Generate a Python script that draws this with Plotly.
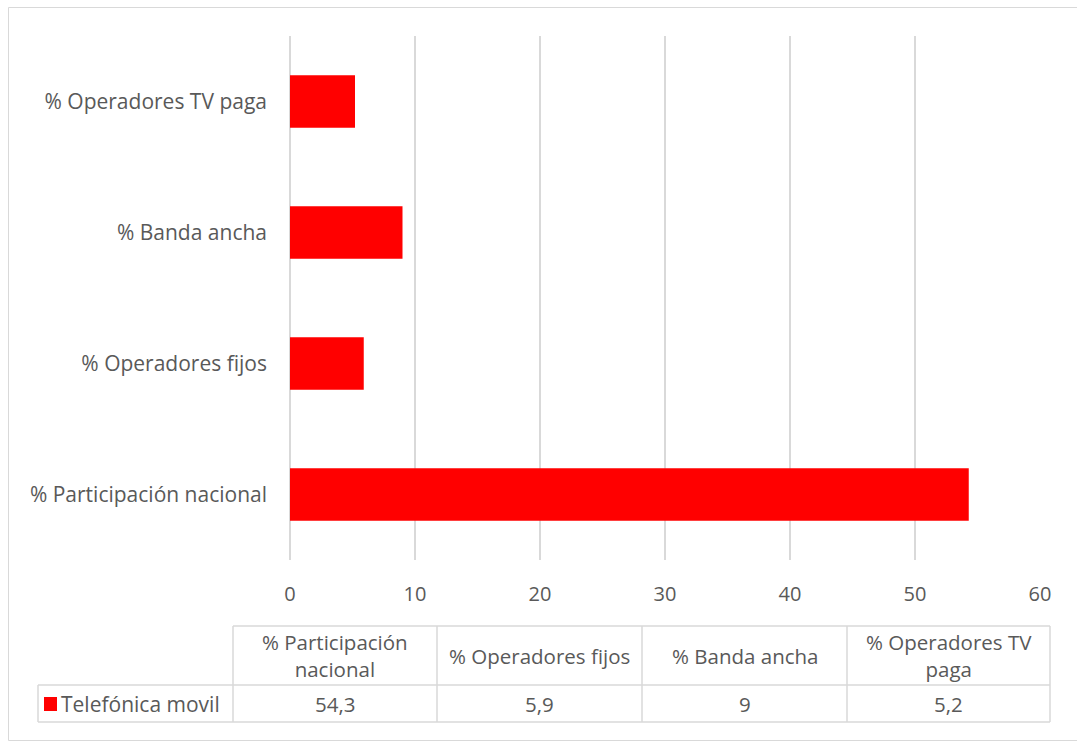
import plotly.graph_objects as go

# Telefónica movil market shares (%)
categories = ["% Participación nacional", "% Operadores fijos", "% Banda ancha", "% Operadores TV paga"]
header_labels = ["% Participación<br>nacional", "% Operadores fijos", "% Banda ancha", "% Operadores TV<br>paga"]
series_name = "Telefónica movil"
values = [54.3, 5.9, 9, 5.2]
value_labels = ["54,3", "5,9", "9", "5,2"]
x_ticks = [0, 10, 20, 30, 40, 50, 60]

W, H = 1077, 749
L, R, T, B = 290, 1040, 36, 560  # plot area in pixels
FONT = "Open Sans, sans-serif"
GREY = "#595959"
LINE = "#d9d9d9"
FS = 21


def px(x):
    return (x - L) / (R - L)


def py(y):
    return (B - y) / (B - T)


fig = go.Figure(go.Bar(
    y=categories, x=values, orientation="h",
    marker=dict(color="#FF0000", line=dict(width=0)),
    name=series_name, showlegend=False,
))

shapes = []
annotations = []

# outer chart border
shapes.append(dict(type="rect", xref="paper", yref="paper",
                   x0=px(8.5), x1=px(1080), y0=py(740.5), y1=py(7.5),
                   line=dict(color=LINE, width=1), fillcolor="rgba(0,0,0,0)", layer="below"))

# data table below the plot
col_edges = [233, 437, 642, 847, 1050]
leg_left = 38
row_top, row_mid, row_bot = 626, 685, 722

def hline(x0, x1, y):
    shapes.append(dict(type="line", xref="paper", yref="paper",
                       x0=px(x0), x1=px(x1), y0=py(y), y1=py(y),
                       line=dict(color=LINE, width=1.5)))

def vline(x, y0, y1):
    shapes.append(dict(type="line", xref="paper", yref="paper",
                       x0=px(x), x1=px(x), y0=py(y0), y1=py(y1),
                       line=dict(color=LINE, width=1.5)))

hline(col_edges[0], col_edges[-1], row_top)
hline(leg_left, col_edges[-1], row_mid)
hline(leg_left, col_edges[-1], row_bot)
for xe in col_edges:
    vline(xe, row_top, row_bot)
vline(leg_left, row_mid, row_bot)

for i in range(4):
    cx = (col_edges[i] + col_edges[i + 1]) / 2
    annotations.append(dict(xref="paper", yref="paper", x=px(cx), y=py((row_top + row_mid) / 2),
                            text=header_labels[i], showarrow=False,
                            font=dict(family=FONT, size=20.5, color=GREY),
                            xanchor="center", yanchor="middle"))
    annotations.append(dict(xref="paper", yref="paper", x=px(cx), y=py((row_mid + row_bot) / 2),
                            text=value_labels[i], showarrow=False,
                            font=dict(family=FONT, size=20.5, color=GREY),
                            xanchor="center", yanchor="middle"))

# legend key in the table
shapes.append(dict(type="rect", xref="paper", yref="paper",
                   x0=px(44), x1=px(57), y0=py(711), y1=py(697),
                   fillcolor="#FF0000", line=dict(width=0)))
annotations.append(dict(xref="paper", yref="paper", x=px(59), y=py((row_mid + row_bot) / 2),
                        text=series_name, showarrow=False,
                        font=dict(family=FONT, size=21, color=GREY),
                        xanchor="left", yanchor="middle"))

fig.update_layout(
    width=W, height=H,
    margin=dict(l=L, r=W - R, t=T, b=H - B),
    paper_bgcolor="white", plot_bgcolor="white",
    bargap=0.6,
    font=dict(family=FONT, size=FS, color=GREY),
    xaxis=dict(range=[0, 60], tickvals=x_ticks, showgrid=True, gridcolor=LINE, gridwidth=1.5,
               zeroline=True, zerolinecolor=LINE, zerolinewidth=1.5,
               showline=False, ticks="", ticklabelstandoff=20,
               tickfont=dict(family=FONT, size=20, color=GREY), fixedrange=True),
    yaxis=dict(range=[-0.5, 3.5], showgrid=False, zeroline=False, showline=False, ticks="",
               ticklabelstandoff=22, tickfont=dict(family=FONT, size=FS, color=GREY)),
    shapes=shapes,
    annotations=annotations,
)

fig.write_html("out.html")
